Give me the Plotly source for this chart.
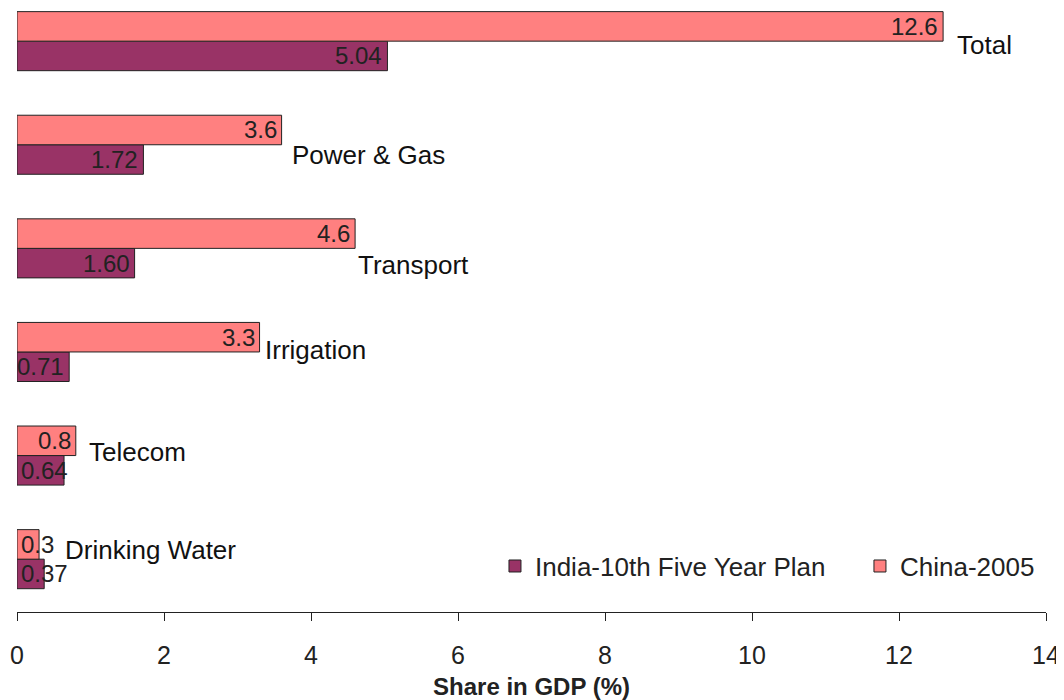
import plotly.graph_objects as go

categories = ["Drinking Water", "Telecom", "Irrigation", "Transport", "Power & Gas", "Total"]
india = [0.37, 0.64, 0.71, 1.60, 1.72, 5.04]
china = [0.3, 0.8, 3.3, 4.6, 3.6, 12.6]
india_text = ["0.37", "0.64", "0.71", "1.60", "1.72", "5.04"]
china_text = ["0.3", "0.8", "3.3", "4.6", "3.6", "12.6"]
x_ticks = [0, 2, 4, 6, 8, 10, 12, 14]

# label placement tweaks (pixels): xshift, yshift
label_shift = {"Drinking Water": (19, 9), "Telecom": (11, 4), "Irrigation": (3, 2),
               "Transport": (1, -17), "Power & Gas": (8, -10), "Total": (12, -4)}

FONT = "Liberation Sans, Arial, sans-serif"
VAL_SIZE = 24
BARGAP = 0.43

fig = go.Figure()
fig.add_trace(go.Bar(y=categories, x=india, orientation="h", name="India-10th Five Year Plan",
                     legend="legend",
                     marker=dict(color="#993366", line=dict(color="#222222", width=1))))
fig.add_trace(go.Bar(y=categories, x=china, orientation="h", name="China-2005",
                     legend="legend2",
                     marker=dict(color="#FF8080", line=dict(color="#222222", width=1))))

ann = []
px_per_unit = 1029 / 14.0
half = (1 - BARGAP) / 4.0
for i, c in enumerate(categories):
    for vals, txts, off in ((india, india_text, -half), (china, china_text, half)):
        v, t = vals[i], txts[i]
        width_px = (sum(1 for ch in t if ch.isdigit()) * 0.556 + t.count(".") * 0.278) * VAL_SIZE
        if v * px_per_unit > width_px + 2:
            ann.append(dict(x=v, y=i + off, text=t, xanchor="right", xshift=-3, showarrow=False,
                            font=dict(family=FONT, size=VAL_SIZE, color="#222222")))
        else:
            ann.append(dict(x=0, y=i + off, text=t, xanchor="left", xshift=2, showarrow=False,
                            font=dict(family=FONT, size=VAL_SIZE, color="#222222")))
    xs, ys = label_shift[c]
    ann.append(dict(x=max(india[i], china[i]), y=i, text=c, xanchor="left", xshift=xs, yshift=ys,
                    showarrow=False, font=dict(family=FONT, size=26, color="#111111")))

legend_style = dict(orientation="h", y=0.076, xanchor="left", yanchor="middle",
                    font=dict(family=FONT, size=26, color="#222222"), itemwidth=30,
                    bgcolor="rgba(0,0,0,0)")

fig.update_layout(
    width=1056, height=692,
    margin=dict(l=9, r=18, t=0, b=88),
    barmode="group", bargap=BARGAP, bargroupgap=0,
    plot_bgcolor="white", paper_bgcolor="white",
    font=dict(family=FONT, size=25, color="#222222"),
    annotations=ann,
    showlegend=True,
    legend=dict(x=0.4645, **legend_style),
    legend2=dict(x=0.8192, **legend_style),
    xaxis=dict(range=[0, 14], tickvals=x_ticks, showgrid=False, zeroline=False,
               showline=True, linecolor="#222222", linewidth=1, ticks="outside", ticklen=8,
               tickcolor="#222222", tickfont=dict(size=25), ticklabelstandoff=13,
               automargin=False,
               title=dict(text="<b>Share in GDP (%)</b>", font=dict(size=24), standoff=22)),
    yaxis=dict(range=[-0.51, 5.32], showticklabels=False, showgrid=False, zeroline=False,
               showline=False, ticks="", automargin=False),
)
fig.write_html("out.html")
